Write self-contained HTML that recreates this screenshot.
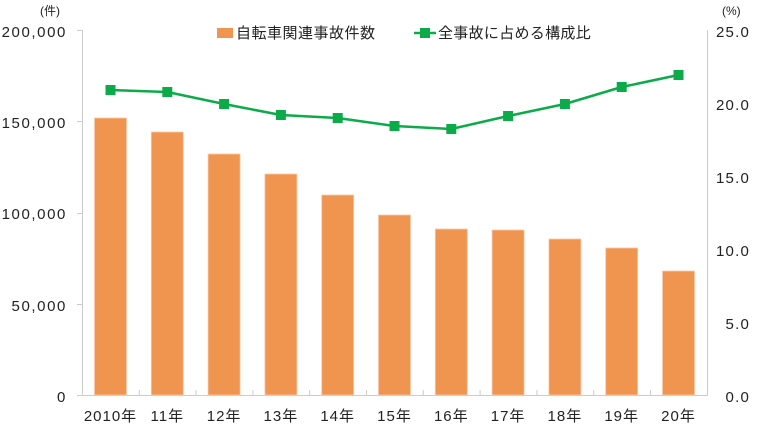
<!DOCTYPE html><html><head><meta charset="utf-8"><style>body{margin:0;background:#fff}svg{display:block}text{font-family:"Liberation Sans","Noto Sans CJK JP",sans-serif;fill:#222}</style></head><body>
<svg width="760" height="435" viewBox="0 0 760 435">
<g stroke="#ccc" stroke-width="1" fill="none">
<path d="M82.5 30V395.5H707.5V30"/>
<path d="M77 30.5H82M77 121.5H82M77 213.5H82M77 304.5H82M77 395.5H82"/>
<path d="M139.3 390V395M196.1 390V395M252.9 390V395M309.7 390V395M366.5 390V395M423.3 390V395M480.1 390V395M536.9 390V395M593.7 390V395M650.5 390V395"/>
</g>
<g fill="#f09550" stroke="#fbc9a8" stroke-width="0.8">
<rect x="94.5" y="118" width="32" height="277"/>
<rect x="151.3" y="132" width="32" height="263"/>
<rect x="208.1" y="154" width="32" height="241"/>
<rect x="264.9" y="174" width="32" height="221"/>
<rect x="321.7" y="195" width="32" height="200"/>
<rect x="378.5" y="215" width="32" height="180"/>
<rect x="435.3" y="229" width="32" height="166"/>
<rect x="492.1" y="230" width="32" height="165"/>
<rect x="548.9" y="239" width="32" height="156"/>
<rect x="605.7" y="248" width="32" height="147"/>
<rect x="662.5" y="271" width="32" height="124"/>
</g>
<polyline fill="none" stroke="#0aab48" stroke-width="2.5" points="110.5,90 167.3,92 224.1,104 280.9,115 337.7,118 394.5,126 451.3,129 508.1,116 564.9,104 621.7,87 678.5,75"/>
<g fill="#0aab48">
<rect x="105.5" y="85" width="10" height="10"/><rect x="162.3" y="87" width="10" height="10"/><rect x="219.1" y="99" width="10" height="10"/><rect x="275.9" y="110" width="10" height="10"/><rect x="332.7" y="113" width="10" height="10"/><rect x="389.5" y="121" width="10" height="10"/><rect x="446.3" y="124" width="10" height="10"/><rect x="503.1" y="111" width="10" height="10"/><rect x="559.9" y="99" width="10" height="10"/><rect x="616.7" y="82" width="10" height="10"/><rect x="673.5" y="70" width="10" height="10"/>
</g>
<g font-size="15" text-anchor="end" letter-spacing="1.6">
<text x="67" y="37">200,000</text><text x="67" y="128">150,000</text><text x="67" y="219">100,000</text><text x="67" y="311">50,000</text><text x="67" y="402">0</text>
</g>
<text x="40" y="15" font-size="12">(件)</text>
<text x="722" y="15" font-size="12">(%)</text>
<g font-size="15" text-anchor="end" letter-spacing="1.2">
<text x="750" y="37">25.0</text><text x="750" y="110">20.0</text><text x="750" y="183">15.0</text><text x="750" y="256">10.0</text><text x="750" y="329">5.0</text><text x="750" y="402">0.0</text>
</g>
<g font-size="15" text-anchor="middle" letter-spacing="1">
<text x="110.5" y="421">2010年</text><text x="167.3" y="421">11年</text><text x="224.1" y="421">12年</text><text x="280.9" y="421">13年</text><text x="337.7" y="421">14年</text><text x="394.5" y="421">15年</text><text x="451.3" y="421">16年</text><text x="508.1" y="421">17年</text><text x="564.9" y="421">18年</text><text x="621.7" y="421">19年</text><text x="678.5" y="421">20年</text>
</g>
<rect x="217" y="28" width="16" height="10" fill="#f09550"/>
<text x="236" y="38" font-size="15" letter-spacing="0.5">自転車関連事故件数</text>
<line x1="414" y1="33" x2="436" y2="33" stroke="#0aab48" stroke-width="2.5"/>
<rect x="420" y="28" width="10" height="10" fill="#0aab48"/>
<text x="438" y="38" font-size="15" letter-spacing="0.3">全事故に占める構成比</text>
</svg></body></html>
